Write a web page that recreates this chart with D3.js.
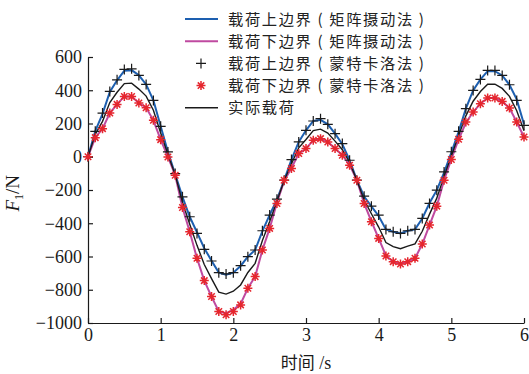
<!DOCTYPE html>
<html>
<head>
<meta charset="utf-8">
<script src="https://cdn.jsdelivr.net/npm/d3@7"></script>
<style>
  body { margin: 0; background: #fff; }
  svg { display: block; }
</style>
</head>
<body>
<div id="chart"></div>
<script>
/**
 * DATA (one point every 0.1 s)
 * */
const times = d3.range(61).map(i => +(i * 0.1).toFixed(1));

// 载荷上边界 (矩阵摄动法)
const upperMatrix = [0, 155, 258, 390, 460, 518, 521, 490, 435, 340,
  183, 29, -105, -241, -361, -455, -550, -625, -697, -710,
  -697, -657, -601, -561, -447, -350, -258, -141, -17, 89,
  159, 215, 222, 195, 139, 75, -21, -141, -239, -299,
  -356, -437, -451, -461, -445, -437, -371, -278, -201, -95,
  25, 150, 289, 399, 465, 515, 515, 489, 433, 345, 195];

// 载荷下边界 (矩阵摄动法)
const lowerMatrix = [0, 115, 169, 263, 315, 363, 363, 323, 295, 219,
  103, -1, -111, -305, -451, -611, -745, -841, -931, -941,
  -921, -885, -791, -721, -561, -431, -276, -145, -68, 19,
  49, 99, 109, 89, 49, 9, -48, -141, -281, -388,
  -491, -595, -631, -645, -631, -611, -525, -411, -297, -141,
  -15, 104, 204, 269, 319, 353, 353, 333, 293, 209, 119];

// 载荷上边界 (蒙特卡洛法)
const upperMC = [0, 153, 263, 393, 463, 525, 529, 489, 435, 339,
  183, 29, -101, -241, -361, -461, -557, -627, -697, -705,
  -697, -655, -601, -561, -445, -351, -255, -141, -17, 89,
  159, 215, 229, 195, 139, 79, -21, -141, -237, -297,
  -351, -437, -451, -461, -445, -437, -371, -281, -201, -91,
  30, 153, 289, 399, 465, 519, 519, 489, 433, 339, 189];

// 载荷下边界 (蒙特卡洛法)
const lowerMC = [0, 115, 169, 263, 315, 363, 363, 323, 295, 219,
  103, -1, -111, -305, -451, -611, -745, -841, -931, -951,
  -931, -891, -791, -721, -561, -431, -281, -141, -71, 19,
  49, 99, 109, 89, 49, 9, -51, -141, -281, -391,
  -491, -597, -631, -645, -631, -611, -525, -411, -297, -141,
  -17, 105, 209, 269, 319, 353, 353, 333, 293, 209, 119];

// 实际载荷
const actual = [0, 135, 213, 326, 388, 440, 443, 407, 365, 280,
  143, 14, -108, -273, -406, -533, -648, -733, -814, -826,
  -809, -771, -696, -641, -504, -390, -267, -143, -42, 54,
  104, 157, 166, 142, 94, 42, -34, -141, -260, -343,
  -423, -516, -541, -553, -538, -524, -448, -345, -249, -118,
  5, 127, 246, 334, 392, 436, 436, 411, 363, 277, 157];

const xTicks = [0, 1, 2, 3, 4, 5, 6];
const yTicks = [-1000, -800, -600, -400, -200, 0, 200, 400, 600];

const legendLabels = [
  "载荷上边界 ( 矩阵摄动法 )",
  "载荷下边界 ( 矩阵摄动法 )",
  "载荷上边界 ( 蒙特卡洛法 )",
  "载荷下边界 ( 蒙特卡洛法 )",
  "实际载荷"
];

/**
 * CONSTANTS
 * */
const width = 529, height = 374;
const margin = { top: 57, right: 5, bottom: 51, left: 88 };
const blue = "#1d5fb0", pink = "#bf4aa0", red = "#e5262e", ink = "#1a1a1a";
const cjk = "'Noto Sans CJK SC', sans-serif";
const serif = "'Liberation Serif', 'Times New Roman', serif";

const svg = d3.select("#chart")
  .append("svg")
  .attr("width", width)
  .attr("height", height);

const xScale = d3.scaleLinear()
  .domain([0, 6])
  .range([margin.left, width - margin.right]);

const yScale = d3.scaleLinear()
  .domain([-1000, 600])
  .range([height - margin.bottom, margin.top]);

// axes, ticks point inward
const xAxis = d3.axisBottom(xScale).tickValues(xTicks).tickFormat(d3.format("d"))
  .tickSizeInner(-5).tickSizeOuter(0).tickPadding(5);
const yAxis = d3.axisLeft(yScale).tickValues(yTicks).tickSizeInner(-5).tickSizeOuter(0).tickPadding(6)
  .tickFormat(d => d < 0 ? "\u2212" + Math.abs(d) : d);

svg.append("g")
  .attr("transform", `translate(0, ${height - margin.bottom})`)
  .call(xAxis)
  .call(g => g.selectAll("text").attr("font-size", 18).attr("font-family", serif).attr("fill", ink));

svg.append("g")
  .attr("transform", `translate(${margin.left}, 0)`)
  .call(yAxis)
  .call(g => g.selectAll("text").attr("font-size", 18).attr("font-family", serif).attr("fill", ink));

svg.selectAll(".domain, .tick line").attr("stroke", ink).attr("stroke-width", 1.2);

// axis titles
svg.append("text")
  .attr("x", xScale(3))
  .attr("y", 369)
  .attr("text-anchor", "middle")
  .attr("fill", ink)
  .attr("font-size", 17)
  .call(t => {
    t.append("tspan").attr("font-family", cjk).text("时间");
    t.append("tspan").attr("font-family", serif).attr("font-size", 18).text(" /s");
  });

const yTitle = svg.append("text")
  .attr("transform", `translate(19, ${yScale(-220)}) rotate(-90)`)
  .attr("text-anchor", "middle")
  .attr("fill", ink)
  .attr("font-family", serif)
  .attr("font-size", 19);
yTitle.append("tspan").attr("font-style", "italic").text("F");
yTitle.append("tspan").attr("font-size", 12).attr("dy", 4).text("1");
yTitle.append("tspan").attr("dy", -4).text("/N");

/**
 * SERIES
 * */
const line = d3.line()
  .x((d, i) => xScale(times[i]))
  .y(d => yScale(d));

svg.append("path").datum(upperMatrix)
  .attr("fill", "none").attr("stroke", blue).attr("stroke-width", 2).attr("d", line);

svg.append("path").datum(lowerMatrix)
  .attr("fill", "none").attr("stroke", pink).attr("stroke-width", 2).attr("d", line);

svg.append("path").datum(actual)
  .attr("fill", "none").attr("stroke", ink).attr("stroke-width", 1.4).attr("d", line);

function plusPath(s) {
  return `M${-s},0H${s}M0,${-s}V${s}`;
}
function starPath(s) {
  const d = s * 0.72;
  return `M${-s},0H${s}M0,${-s}V${s}M${-d},${-d}L${d},${d}M${-d},${d}L${d},${-d}`;
}

svg.append("g")
  .selectAll("path")
  .data(upperMC)
  .join("path")
  .attr("transform", (d, i) => `translate(${xScale(times[i])},${yScale(d)})`)
  .attr("d", plusPath(5))
  .attr("stroke", ink)
  .attr("stroke-width", 1.2);

svg.append("g")
  .selectAll("path")
  .data(lowerMC)
  .join("path")
  .attr("transform", (d, i) => `translate(${xScale(times[i])},${yScale(d)})`)
  .attr("d", starPath(4.5))
  .attr("stroke", red)
  .attr("stroke-width", 1.5);

/**
 * LEGEND
 * */
const legend = svg.append("g").attr("transform", "translate(185, 19)");
const rowH = 22.2;

legendLabels.forEach((label, i) => {
  const row = legend.append("g").attr("transform", `translate(0, ${i * rowH})`);
  if (i === 0 || i === 1 || i === 4) {
    row.append("line")
      .attr("x1", 0).attr("x2", 33)
      .attr("stroke", i === 0 ? blue : i === 1 ? pink : ink)
      .attr("stroke-width", i === 4 ? 1.4 : 2);
  } else if (i === 2) {
    row.append("path").attr("transform", "translate(16,0)").attr("d", plusPath(5))
      .attr("stroke", ink).attr("stroke-width", 1.2);
  } else {
    row.append("path").attr("transform", "translate(16,0)").attr("d", starPath(4.5))
      .attr("stroke", red).attr("stroke-width", 1.5);
  }
  row.append("text")
    .attr("x", 43)
    .attr("dy", "0.36em")
    .attr("fill", "#222")
    .attr("font-family", cjk)
    .attr("font-size", 15.3)
    .attr("letter-spacing", 1.6)
    .text(label);
});
</script>
</body>
</html>
